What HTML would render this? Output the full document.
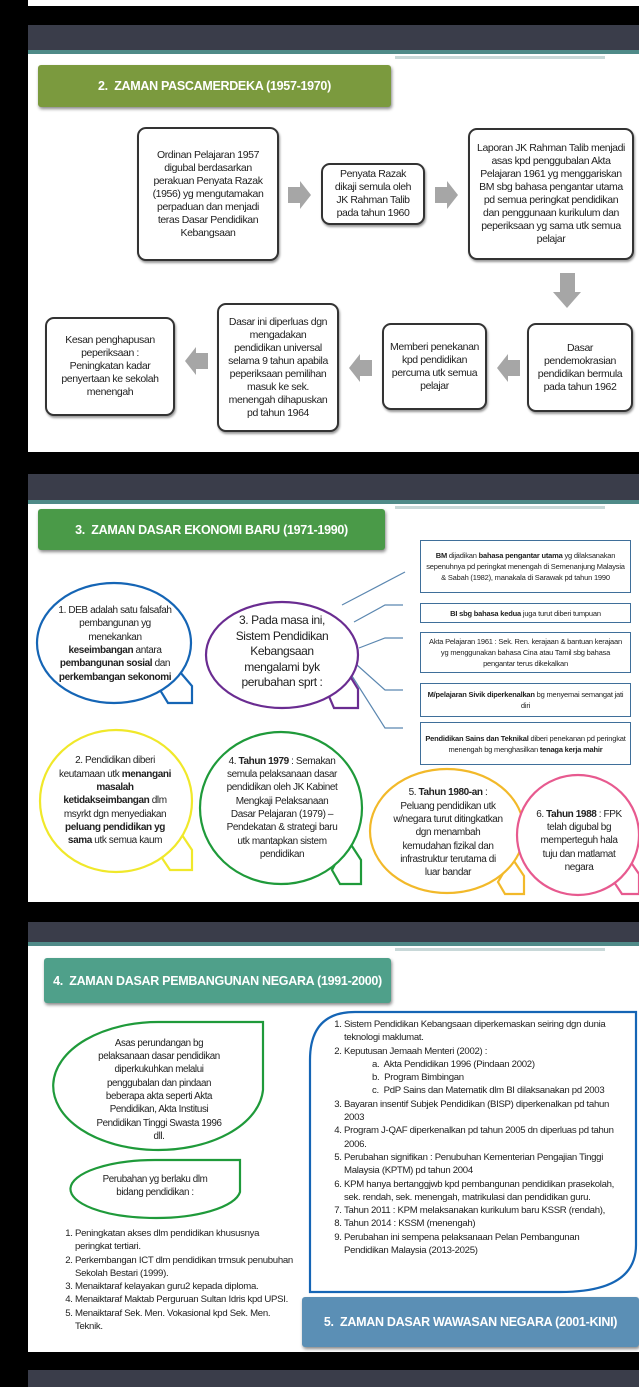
<!DOCTYPE html>
<html><head><meta charset="utf-8"><style>
*{margin:0;padding:0;box-sizing:border-box}
body{width:639px;height:1387px;background:#000;position:relative;overflow:hidden;font-family:"Liberation Sans",Arial,sans-serif;color:#222}
.a{position:absolute}
.t{position:absolute;text-align:center;display:flex;align-items:center;justify-content:center;font-size:10.5px;line-height:13px;letter-spacing:-0.4px}
.box{border:2px solid #333;border-radius:9px;background:#fff;box-shadow:1px 2px 2px #999}
.title{position:absolute;color:#fff;font-weight:bold;display:flex;align-items:center;justify-content:center;border-radius:3px;box-shadow:1px 2px 3px #888;letter-spacing:-0.3px}
.rb{position:absolute;border:1.5px solid #3f6f9a;background:#fff;font-size:7.5px;line-height:11px;text-align:center;display:flex;align-items:center;justify-content:center;letter-spacing:-0.2px;padding:0 4px}
.bt{position:absolute;text-align:center;font-size:10px;line-height:13.3px;letter-spacing:-0.4px;display:flex;align-items:center;justify-content:center}
ol{font-size:9.6px;line-height:13.3px;letter-spacing:-0.3px}
</style></head><body>
<div class="a" style="left:28px;top:0;width:611px;height:6px;background:#fff"></div>
<div class="a" style="left:28px;top:25px;width:611px;height:427px;background:#fff"></div>
<div class="a" style="left:28px;top:25px;width:611px;height:25px;background:#3a3d4a"></div>
<div class="a" style="left:28px;top:50px;width:611px;height:4px;background:#4f8a88"></div>
<div class="a" style="left:395px;top:56px;width:210px;height:3px;background:#c8d8d8"></div>

<div class="a" style="left:28px;top:474px;width:611px;height:428px;background:#fff"></div>
<div class="a" style="left:28px;top:474px;width:611px;height:26px;background:#3a3d4a"></div>
<div class="a" style="left:28px;top:500px;width:611px;height:4px;background:#4f8a88"></div>
<div class="a" style="left:395px;top:506px;width:210px;height:3px;background:#c8d8d8"></div>

<div class="a" style="left:28px;top:922px;width:611px;height:430px;background:#fff"></div>
<div class="a" style="left:28px;top:922px;width:611px;height:20px;background:#3a3d4a"></div>
<div class="a" style="left:28px;top:942px;width:611px;height:4px;background:#4f8a88"></div>
<div class="a" style="left:395px;top:948px;width:210px;height:3px;background:#c8d8d8"></div>

<div class="a" style="left:28px;top:1370px;width:611px;height:17px;background:#3a3d4a"></div>

<!-- section 1 -->
<div class="title" style="left:38px;top:65px;width:353px;height:42px;background:#7b9a3e;font-size:12.5px">2.&nbsp; ZAMAN PASCAMERDEKA (1957-1970)</div>
<div class="t box" style="left:137px;top:127px;width:142px;height:134px;padding:0 10px">Ordinan Pelajaran 1957 digubal berdasarkan perakuan Penyata Razak (1956) yg mengutamakan perpaduan dan menjadi teras Dasar Pendidikan Kebangsaan</div>
<div class="t box" style="left:321px;top:163px;width:104px;height:62px;padding:0 8px">Penyata Razak dikaji semula oleh JK Rahman Talib pada tahun 1960</div>
<div class="t box" style="left:468px;top:128px;width:166px;height:132px;padding:0 6px">Laporan JK Rahman Talib menjadi asas kpd penggubalan Akta Pelajaran 1961 yg menggariskan BM sbg bahasa pengantar utama pd semua peringkat pendidikan dan penggunaan kurikulum dan peperiksaan yg sama utk semua pelajar</div>
<div class="t box" style="left:527px;top:323px;width:106px;height:89px;padding:0 4px">Dasar pendemokrasian pendidikan bermula pada tahun 1962</div>
<div class="t box" style="left:382px;top:323px;width:105px;height:87px;padding:0 6px">Memberi penekanan kpd pendidikan percuma utk semua pelajar</div>
<div class="t box" style="left:217px;top:303px;width:122px;height:129px;padding:0 6px">Dasar ini diperluas dgn mengadakan pendidikan universal selama 9 tahun apabila peperiksaan pemilihan masuk ke sek. menengah dihapuskan pd tahun 1964</div>
<div class="t box" style="left:45px;top:317px;width:130px;height:99px;padding:0 8px">Kesan penghapusan peperiksaan : Peningkatan kadar penyertaan ke sekolah menengah</div>

<svg class="a" style="left:0;top:0" width="639" height="1387">
<g fill="#a6a6a6">
<polygon points="288,187 300,187 300,181 311,195 300,209 300,203 288,203"/>
<polygon points="435,187 447,187 447,181 458,195 447,209 447,203 435,203"/>
<polygon points="560,273 575,273 575,292 581,292 567,308 553,292 560,292"/>
<polygon points="520,360 508,360 508,354 497,368 508,382 508,376 520,376"/>
<polygon points="372,360 360,360 360,354 349,368 360,382 360,376 372,376"/>
<polygon points="208,353 196,353 196,347 185,361 196,375 196,369 208,369"/>
</g>
<g stroke="#5b87b0" stroke-width="1.2" fill="none">
<polyline points="342,605 405,572"/>
<polyline points="354,622 385,605 403,605"/>
<polyline points="359,648 385,638 403,638"/>
<polyline points="357,665 385,690 403,690"/>
<polyline points="352,676 385,728 403,728"/>
</g>
<g fill="#fff" stroke-width="2.2">
<g stroke="#1565b5"><polygon points="180,672 192,686 192,703 168,703 160,690"/><ellipse cx="114" cy="643" rx="77" ry="60"/></g>
<g stroke="#6a2c91"><polygon points="345,668 358,689 358,708 334,708 328,694"/><ellipse cx="282" cy="655" rx="76" ry="53"/></g>
<g stroke="#f0e82a"><polygon points="180,832 192,850 192,870 170,870 162,858"/><ellipse cx="116" cy="801" rx="76" ry="71"/></g>
<g stroke="#1f9a3a"><polygon points="348,840 361,860 361,884 340,884 332,870"/><ellipse cx="281" cy="808" rx="81" ry="76"/></g>
<g stroke="#f2b92a"><polygon points="512,858 524,876 524,894 505,894 498,882"/><ellipse cx="447" cy="831" rx="77" ry="62"/></g>
<g stroke="#e75a8f"><polygon points="628,858 639,874 639,894 622,894 614,882"/><ellipse cx="578" cy="835" rx="61" ry="60"/></g>
<path stroke="#1f9a3a" d="M263,1022 L263,1090 A105,64 0 1 1 160,1022 Z"/>
<path stroke="#1f9a3a" d="M240,1160 L240,1192 A85,29 0 1 1 155,1160 Z"/>
<path stroke="#1565b5" d="M355,1012 L636,1012 L636,1245 Q636,1292 560,1292 L310,1292 L310,1060 Q310,1012 355,1012 Z"/>
</g>
</svg>

<!-- section 2 -->
<div class="title" style="left:38px;top:509px;width:347px;height:41px;background:#4a9a48;font-size:12.5px">3.&nbsp; ZAMAN DASAR EKONOMI BARU (1971-1990)</div>
<div class="rb" style="left:420px;top:540px;width:211px;height:53px"><div><b>BM</b> dijadikan <b>bahasa pengantar utama</b> yg dilaksanakan sepenuhnya pd peringkat menengah di Semenanjung Malaysia &amp; Sabah (1982), manakala di Sarawak pd tahun 1990</div></div>
<div class="rb" style="left:420px;top:603px;width:211px;height:20px"><div><b>BI sbg bahasa kedua</b> juga turut diberi tumpuan</div></div>
<div class="rb" style="left:420px;top:632px;width:211px;height:41px"><div>Akta Pelajaran 1961 : Sek. Ren. kerajaan &amp; bantuan kerajaan yg menggunakan bahasa Cina atau Tamil sbg bahasa pengantar terus dikekalkan</div></div>
<div class="rb" style="left:420px;top:683px;width:211px;height:34px"><div><b>M/pelajaran Sivik diperkenalkan</b> bg menyemai semangat jati diri</div></div>
<div class="rb" style="left:420px;top:722px;width:211px;height:43px"><div><b>Pendidikan Sains dan Teknikal</b> diberi penekanan pd peringkat menengah bg menghasilkan <b>tenaga kerja mahir</b></div></div>

<div class="bt" style="left:58px;top:596px;width:114px;height:96px"><div>1. DEB adalah satu falsafah pembangunan yg menekankan <b>keseimbangan</b> antara <b>pembangunan sosial</b> dan <b>perkembangan sekonomi</b></div></div>
<div class="bt" style="left:226px;top:610px;width:112px;height:84px;font-size:12px;line-height:15.5px"><div>3. Pada masa ini, Sistem Pendidikan Kebangsaan mengalami byk perubahan sprt :</div></div>
<div class="bt" style="left:58px;top:745px;width:114px;height:112px"><div>2. Pendidikan diberi keutamaan utk <b>menangani masalah ketidakseimbangan</b> dlm msyrkt dgn menyediakan <b>peluang pendidikan yg sama</b> utk semua kaum</div></div>
<div class="bt" style="left:226px;top:740px;width:112px;height:136px"><div>4. <b>Tahun 1979</b> : Semakan semula pelaksanaan dasar pendidikan oleh JK Kabinet Mengkaji Pelaksanaan Dasar Pelajaran (1979) – Pendekatan &amp; strategi baru utk mantapkan sistem pendidikan</div></div>
<div class="bt" style="left:392px;top:783px;width:112px;height:100px"><div>5. <b>Tahun 1980-an</b> : Peluang pendidikan utk w/negara turut ditingkatkan dgn menambah kemudahan fizikal dan infrastruktur terutama di luar bandar</div></div>
<div class="bt" style="left:533px;top:805px;width:92px;height:72px"><div>6. <b>Tahun 1988</b> : FPK telah digubal bg memperteguh hala tuju dan matlamat negara</div></div>

<!-- section 3 -->
<div class="title" style="left:44px;top:958px;width:347px;height:45px;background:#4fa08a;font-size:12.5px">4.&nbsp; ZAMAN DASAR PEMBANGUNAN NEGARA (1991-2000)</div>
<div class="bt" style="left:90px;top:1035px;width:138px;height:110px;font-size:9.8px"><div>Asas perundangan bg pelaksanaan dasar pendidikan diperkukuhkan melalui penggubalan dan pindaan beberapa akta seperti Akta Pendidikan, Akta Institusi Pendidikan Tinggi Swasta 1996 dll.</div></div>
<div class="bt" style="left:95px;top:1170px;width:120px;height:32px;font-size:9.8px"><div>Perubahan yg berlaku dlm bidang pendidikan :</div></div>
<ol class="a" style="left:62px;top:1227px;width:235px;padding-left:13px">
<li>Peningkatan akses dlm pendidikan khususnya peringkat tertiari.</li>
<li>Perkembangan ICT dlm pendidikan trmsuk penubuhan Sekolah Bestari (1999).</li>
<li>Menaiktaraf kelayakan guru2 kepada diploma.</li>
<li>Menaiktaraf Maktab Perguruan Sultan Idris kpd UPSI.</li>
<li>Menaiktaraf Sek. Men. Vokasional kpd Sek. Men. Teknik.</li>
</ol>
<ol class="a" style="left:331px;top:1018px;width:295px;padding-left:13px">
<li>Sistem Pendidikan Kebangsaan diperkemaskan seiring dgn dunia teknologi maklumat.</li>
<li>Keputusan Jemaah Menteri (2002) :
<div style="padding-left:28px">a.&nbsp; Akta Pendidikan 1996 (Pindaan 2002)<br>b.&nbsp; Program Bimbingan<br>c.&nbsp; PdP Sains dan Matematik dlm BI dilaksanakan pd 2003</div></li>
<li>Bayaran insentif Subjek Pendidikan (BISP) diperkenalkan pd tahun 2003</li>
<li>Program J-QAF diperkenalkan pd tahun 2005 dn diperluas pd tahun 2006.</li>
<li>Perubahan signifikan : Penubuhan Kementerian Pengajian Tinggi Malaysia (KPTM) pd tahun 2004</li>
<li>KPM hanya bertanggjwb kpd pembangunan pendidikan prasekolah, sek. rendah, sek. menengah, matrikulasi dan pendidikan guru.</li>
<li>Tahun 2011 : KPM melaksanakan kurikulum baru KSSR (rendah),</li>
<li>Tahun 2014 : KSSM (menengah)</li>
<li>Perubahan ini sempena pelaksanaan Pelan Pembangunan Pendidikan Malaysia (2013-2025)</li>
</ol>
<div class="title" style="left:302px;top:1297px;width:337px;height:50px;background:#5b8fb5;font-size:12.5px">5.&nbsp; ZAMAN DASAR WAWASAN NEGARA (2001-KINI)</div>
</body></html>
